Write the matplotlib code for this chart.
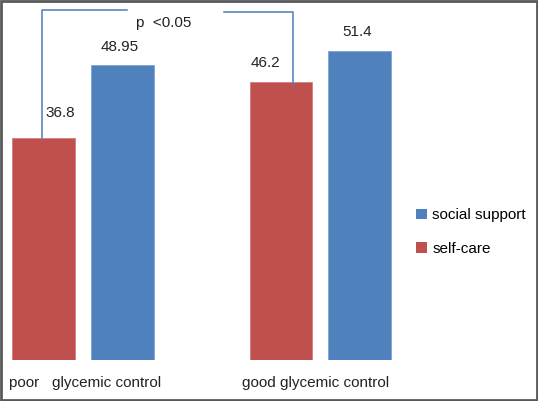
import matplotlib.pyplot as plt
from matplotlib.patches import Patch, Rectangle

groups = ["poor   glycemic control", "good glycemic control"]
self_care = [36.8, 46.2]
social_support = [48.95, 51.4]
p_text = "p  <0.05"

RED = "#C0504D"
BLUE = "#4F81BD"

plt.rcParams["font.family"] = ["Liberation Sans", "DejaVu Sans"]

fig = plt.figure(figsize=(5.38, 4.01), dpi=100)
ax = fig.add_axes([0, 41 / 401, 1, 360 / 401])
ax.set_xlim(-0.349, 1.916)
ax.set_ylim(0, 59.8)
ax.axis("off")

x = [0, 1]
w = 0.265
off = 0.166
xr = [i - off for i in x]
xb = [i + off for i in x]
ax.bar(xr, self_care, width=w, color=RED, edgecolor="#D47F7C", linewidth=0.6)
ax.bar(xb, social_support, width=w, color=BLUE, edgecolor="#7FA4D4", linewidth=0.6)

fs = 11
# value labels (red ones sit beside the bracket lines)
red_dx = [0.07, -0.064]
red_dy = [4.2, 3.1]
for xi, v, dx, dy in zip(xr, self_care, red_dx, red_dy):
    ax.text(xi + dx, v + dy, f"{v:g}", ha="center", va="center", fontsize=fs, color="#222222")
for xi, v in zip(xb, social_support):
    ax.text(xi - 0.01, v + 3.1, f"{v:g}", ha="center", va="center", fontsize=fs, color="#222222")

# category labels
ax.text(-0.312, -3.8, groups[0], ha="left", va="center", fontsize=fs, color="#222222")
ax.text(0.668, -3.8, groups[1], ha="left", va="center", fontsize=fs, color="#222222")

# significance bracket
lc = "#4A7EBB"
ytop = 58.1
ax.plot([xr[0] - 0.006, xr[0] - 0.006, 0.185], [self_care[0], ytop, ytop], color=lc, lw=1.1)
ax.plot([0.594, 0.884, 0.884], [ytop - 0.3, ytop - 0.3, self_care[1] - 0.5], color=lc, lw=1.1)
ax.text(0.225, 55.9, p_text, ha="left", va="center", fontsize=fs, color="#222222")

handles = [Patch(facecolor=BLUE, label="social support"), Patch(facecolor=RED, label="self-care")]
fig.legend(handles=handles, loc="center left", bbox_to_anchor=(410 / 538, 1 - 232 / 401),
           frameon=False, fontsize=fs, handlelength=0.7, handleheight=0.7,
           handletextpad=0.35, labelspacing=1.25, borderaxespad=0)

fig.add_artist(Rectangle((0.002, 0.0025), 0.996, 0.995, transform=fig.transFigure,
                         fill=False, edgecolor="#595959", linewidth=2))

fig.savefig("out.png", dpi=100)
